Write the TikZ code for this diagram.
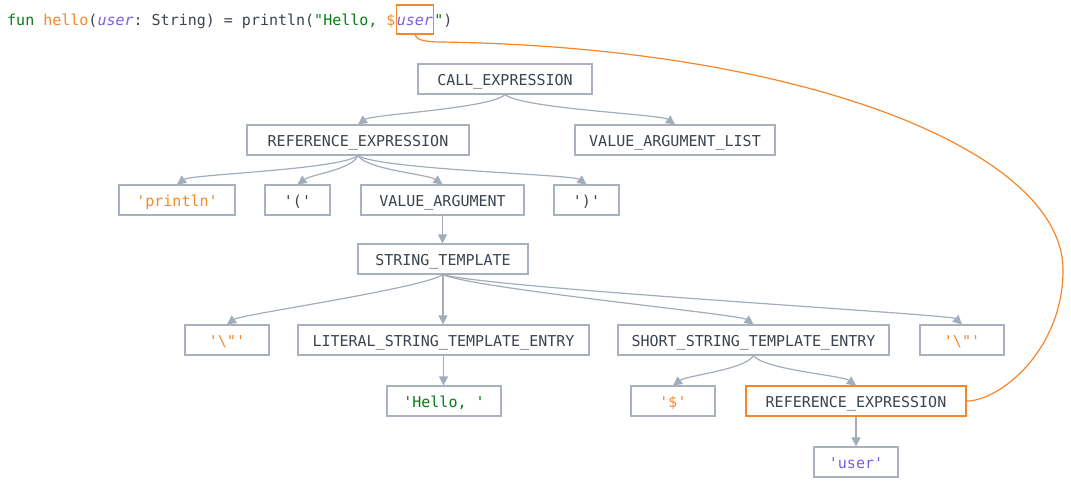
\documentclass[tikz,border=0pt]{standalone}
\usepackage{fontspec}
\setmonofont{DejaVu Sans Mono}
\usetikzlibrary{arrows.meta,calc}
\definecolor{edgegray}{HTML}{A3ACBA}
\definecolor{boxgray}{HTML}{A9B1BE}
\definecolor{textdark}{HTML}{3B444E}
\definecolor{korange}{HTML}{F18A2B}
\definecolor{boxorange}{HTML}{F7862A}
\definecolor{kgreen}{HTML}{067D17}
\definecolor{kpurple}{HTML}{7B5CE6}
\newcommand{\curvededge}[3][14]{%
  \draw[edge] let \p1=(#2.south), \p2=(#3.north), \n1={(\x2>\x1)*2-1} in
    (\p1) .. controls (\x1+0.1*\x2-0.1*\x1, \y1-14pt) and (\x2-\n1*#1pt, \y2+10pt) .. (\p2);}
\begin{document}
\begin{tikzpicture}[x=1pt,y=-1pt,
  font=\ttfamily\fontsize{15}{18}\selectfont,
  box/.style={draw=boxgray, line width=1.2pt, minimum height=30pt, inner sep=0pt,
    text height=13pt, text depth=0pt, text=textdark, fill=white},
  tok/.style={box, text=#1},
  edge/.style={draw=edgegray, line width=1.2pt, -{Triangle[length=9pt,width=9pt]}},
  link/.style={draw=boxorange, line width=1.2pt}]
\useasboundingbox (0,0) rectangle (1071,488);

% code line
\node[anchor=base west, inner sep=0pt, text=textdark] (c1) at (7,25)
  {\textcolor{kgreen}{fun} \textcolor{korange}{hello}(\textcolor{kpurple}{\itshape user}: String) = println(\textcolor{kgreen}{"Hello, }\textcolor{korange}{\$}};
\node[anchor=base west, draw=boxorange, line width=1.2pt, inner xsep=0.5pt, inner ysep=0pt,
  text height=20pt, text depth=9pt] (usr) at (c1.base east) {\textcolor{kpurple}{\itshape user}};
\node[anchor=base west, inner sep=0pt, text=textdark] (c2) at (usr.base east) {\textcolor{kgreen}{"})};

% tree nodes
\node[box, minimum width=174pt] (ce) at (505,79) {CALL\_EXPRESSION};
\node[box, minimum width=222pt] (re1) at (358,140) {REFERENCE\_EXPRESSION};
\node[box, minimum width=200pt] (val) at (675,140) {VALUE\_ARGUMENT\_LIST};
\node[tok=korange, minimum width=116pt] (pl) at (177,200) {'println'};
\node[box, minimum width=65pt] (lp) at (297.5,200) {'('};
\node[box, minimum width=163pt] (va) at (442.5,200) {VALUE\_ARGUMENT};
\node[box, minimum width=65pt] (rp) at (586.5,200) {')'};
\node[box, minimum width=170pt] (st) at (443,259) {STRING\_TEMPLATE};
\node[tok=korange, minimum width=84pt] (bq1) at (227,340) {'\textbackslash\textquotedbl'};
\node[box, minimum width=291pt] (lst) at (443.5,340) {LITERAL\_STRING\_TEMPLATE\_ENTRY};
\node[box, minimum width=271pt] (sst) at (753.5,340) {SHORT\_STRING\_TEMPLATE\_ENTRY};
\node[tok=korange, minimum width=84pt] (bq2) at (962,340) {'\textbackslash\textquotedbl'};
\node[tok=kgreen, minimum width=114pt] (hel) at (444,401) {'Hello, '};
\node[tok=korange, minimum width=84pt] (dol) at (673,401) {'\$'};
\node[box, draw=boxorange, minimum width=220pt] (re2) at (856,401) {REFERENCE\_EXPRESSION};
\node[tok=kpurple, minimum width=84pt] (usr2) at (856,462) {'user'};

% edges
\curvededge{ce}{re1}
\curvededge{ce}{val}
\curvededge{re1}{pl}
\curvededge{re1}{lp}
\curvededge{re1}{va}
\curvededge{re1}{rp}
\draw[edge] (va.south) -- (va.south |- st.north);
\curvededge{st}{bq1}
\draw[edge] (st.south) -- (st.south |- lst.north);
\curvededge{st}{sst}
\curvededge[11]{st}{bq2}
\draw[edge] (lst.south) -- (lst.south |- hel.north);
\curvededge{sst}{dol}
\curvededge{sst}{re2}
\draw[edge] (re2.south) -- (re2.south |- usr2.north);

% link from source to node
\draw[link] (usr.south) .. controls (416,40) and (425,41.8) .. (440,42)
  .. controls (800,47) and (1063,150) .. (1063,270)
  .. controls (1063,350) and (1000,401) .. (re2.east);
\end{tikzpicture}
\end{document}
